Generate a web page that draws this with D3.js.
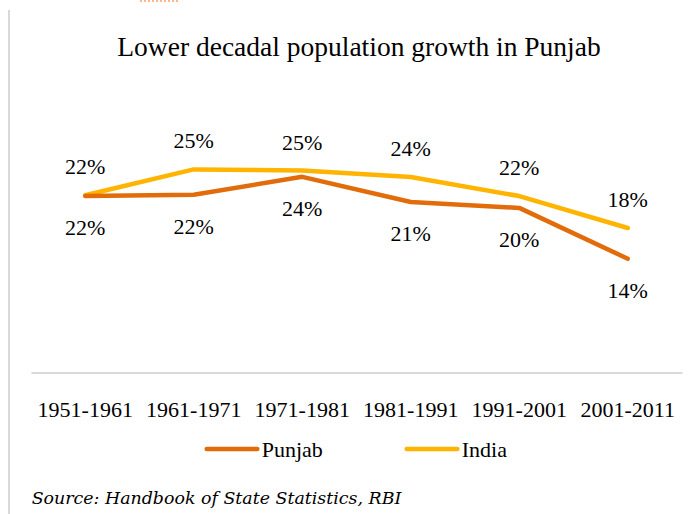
<!DOCTYPE html>
<html>
<head>
<meta charset="utf-8">
<script src="https://cdn.jsdelivr.net/npm/d3@7"></script>
<style>
  html, body { margin: 0; padding: 0; background: #fff; }
  svg { display: block; }
</style>
</head>
<body>
<div class="chart"></div>
<script>
'use strict';

var decades = ['1951-1961', '1961-1971', '1971-1981', '1981-1991', '1991-2001', '2001-2011'];
var punjab = [21.56, 21.70, 23.89, 20.81, 20.10, 13.89];
var india = [21.64, 24.80, 24.66, 23.87, 21.54, 17.64];
var seriesNames = ['Punjab', 'India'];
var seriesColors = ['#e36c0a', '#ffb400'];
var yDomain = [0, 30];

var width = 693, height = 514;
var serif = '"Liberation Serif", "Times New Roman", serif';

var svg = d3.select('.chart').append('svg')
  .attr('width', width)
  .attr('height', height);

// frame remnants from the cropped page
svg.append('line')
  .attr('x1', 9).attr('x2', 9)
  .attr('y1', 10).attr('y2', height)
  .style('stroke', '#d9d9d9')
  .style('stroke-width', 2);
svg.append('line')
  .attr('x1', 140).attr('x2', 180)
  .attr('y1', 1).attr('y2', 1)
  .style('stroke', '#f6b98a')
  .style('stroke-width', 2)
  .style('stroke-dasharray', '2,2');

var x = d3.scaleBand().domain(decades).range([31, 682]);
var y = d3.scaleLinear().domain(yDomain).range([372.5, 126.8]);
var cx = function(d) { return x(d) + x.bandwidth() / 2; };

svg.append('text')
  .attr('x', 359)
  .attr('y', 56)
  .attr('text-anchor', 'middle')
  .style('font-family', serif)
  .style('font-size', '27.5px')
  .style('fill', '#000')
  .text('Lower decadal population growth in Punjab');

// x axis
var axis = svg.append('g')
  .attr('transform', 'translate(0,372.5)')
  .call(d3.axisBottom(x).tickSize(0).tickPadding(0));
axis.select('.domain')
  .style('stroke', '#d9d9d9')
  .style('stroke-width', 2);
axis.selectAll('text')
  .attr('y', 44.2)
  .attr('dy', 0)
  .style('font-family', serif)
  .style('font-size', '22px')
  .style('fill', '#000');

var line = d3.line()
  .x(function(d) { return cx(d.cat); })
  .y(function(d) { return y(d.v); });

var series = [punjab, india].map(function(vals, i) {
  return {
    name: seriesNames[i],
    color: seriesColors[i],
    points: vals.map(function(v, j) { return {cat: decades[j], v: v}; })
  };
});

// India drawn first, Punjab on top
series.slice().reverse().forEach(function(s) {
  svg.append('path')
    .datum(s.points)
    .attr('d', line)
    .style('fill', 'none')
    .style('stroke', s.color)
    .style('stroke-width', 4.5)
    .style('stroke-linecap', 'round')
    .style('stroke-linejoin', 'round');
});

// data labels: India above, Punjab below
series.forEach(function(s, i) {
  var off = i === 1 ? -21 : 39;
  svg.selectAll('text.lbl-' + i)
    .data(s.points)
    .enter().append('text')
    .attr('class', 'lbl-' + i)
    .attr('x', function(d) { return cx(d.cat); })
    .attr('y', function(d) { return y(d.v) + off; })
    .attr('text-anchor', 'middle')
    .style('font-family', serif)
    .style('font-size', '22px')
    .style('fill', '#000')
    .text(function(d) { return Math.round(d.v) + '%'; });
});

// legend
var legendX = [206.7, 406.7];
series.forEach(function(s, i) {
  var g = svg.append('g').attr('transform', 'translate(' + legendX[i] + ',449)');
  g.append('line')
    .attr('x1', 0).attr('x2', 50.6)
    .style('stroke', s.color)
    .style('stroke-width', 4.5)
    .style('stroke-linecap', 'round');
  g.append('text')
    .attr('x', 55)
    .attr('y', 7.7)
    .style('font-family', serif)
    .style('font-size', '22px')
    .style('fill', '#000')
    .text(s.name);
});

svg.append('text')
  .attr('x', 31.7)
  .attr('y', 504)
  .style('font-family', '"DejaVu Serif", Georgia, serif')
  .style('font-style', 'italic')
  .style('font-size', '17.4px')
  .style('fill', '#000')
  .text('Source: Handbook of State Statistics, RBI');
</script>
</body>
</html>
